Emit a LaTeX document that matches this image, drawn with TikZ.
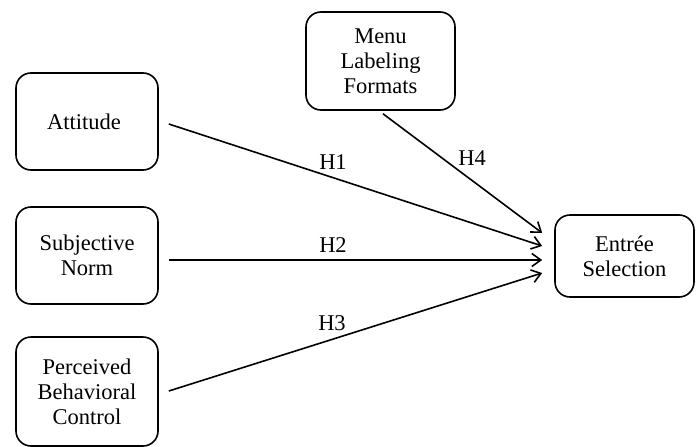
\documentclass[tikz,border=0pt]{standalone}
\usepackage{fontspec}
\setmainfont{Liberation Serif}
\usetikzlibrary{arrows.meta,calc}
\begin{document}
\begin{tikzpicture}[x=1pt,y=-1pt,
  box/.style={draw, line width=1.6pt, rounded corners=15pt, align=center,
    font=\fontsize{22.5}{25}\selectfont, inner sep=0pt},
  link/.style={line width=1.6pt, -{Straight Barb[length=9pt,width=13pt,line width=1.6pt]}},
  hlab/.style={font=\fontsize{22.5}{25}\selectfont, inner sep=0pt}]
\useasboundingbox (0,0) rectangle (696,447);
\node[box, minimum width=142pt, minimum height=97pt] (att) at (87,121.5) {Attitude\hspace*{6pt}};
\node[box, minimum width=142pt, minimum height=97pt] (sub) at (87,255.5) {Subjective\\Norm};
\node[box, minimum width=142pt, minimum height=109pt] (pbc) at (87,391.5) {Perceived\\Behavioral\\Control};
\node[box, minimum width=149pt, minimum height=98pt] (menu) at (380.5,61) {Menu\\Labeling\\Formats};
\node[box, minimum width=139pt, minimum height=82pt] (ent) at (624.5,256) {Entrée\\Selection};
\coordinate (s1) at ($(att.east)+(10,2.5)$);
\coordinate (s2) at ($(sub.east)+(10,4.5)$);
\coordinate (s3) at ($(pbc.east)+(10,-0.5)$);
\coordinate (s4) at ($(menu.south)+(2.5,3)$);
\coordinate (t1) at ($(ent.west)+(-12,-10)$);
\coordinate (t2) at ($(ent.west)+(-12,4)$);
\coordinate (t3) at ($(ent.west)+(-12,17)$);
\coordinate (t4) at ($(ent.west)+(-12,-23)$);
\draw[link] (s1) -- (t1);
\draw[link] (s2) -- (t2);
\draw[link] (s3) -- (t3);
\draw[link] (s4) -- (t4);
\node[hlab] (h1) at (333,162) {H1};
\node[hlab] (h2) at (333,245) {H2};
\node[hlab] (h3) at (332,323) {H3};
\node[hlab] (h4) at (472,158) {H4};
\end{tikzpicture}
\end{document}
